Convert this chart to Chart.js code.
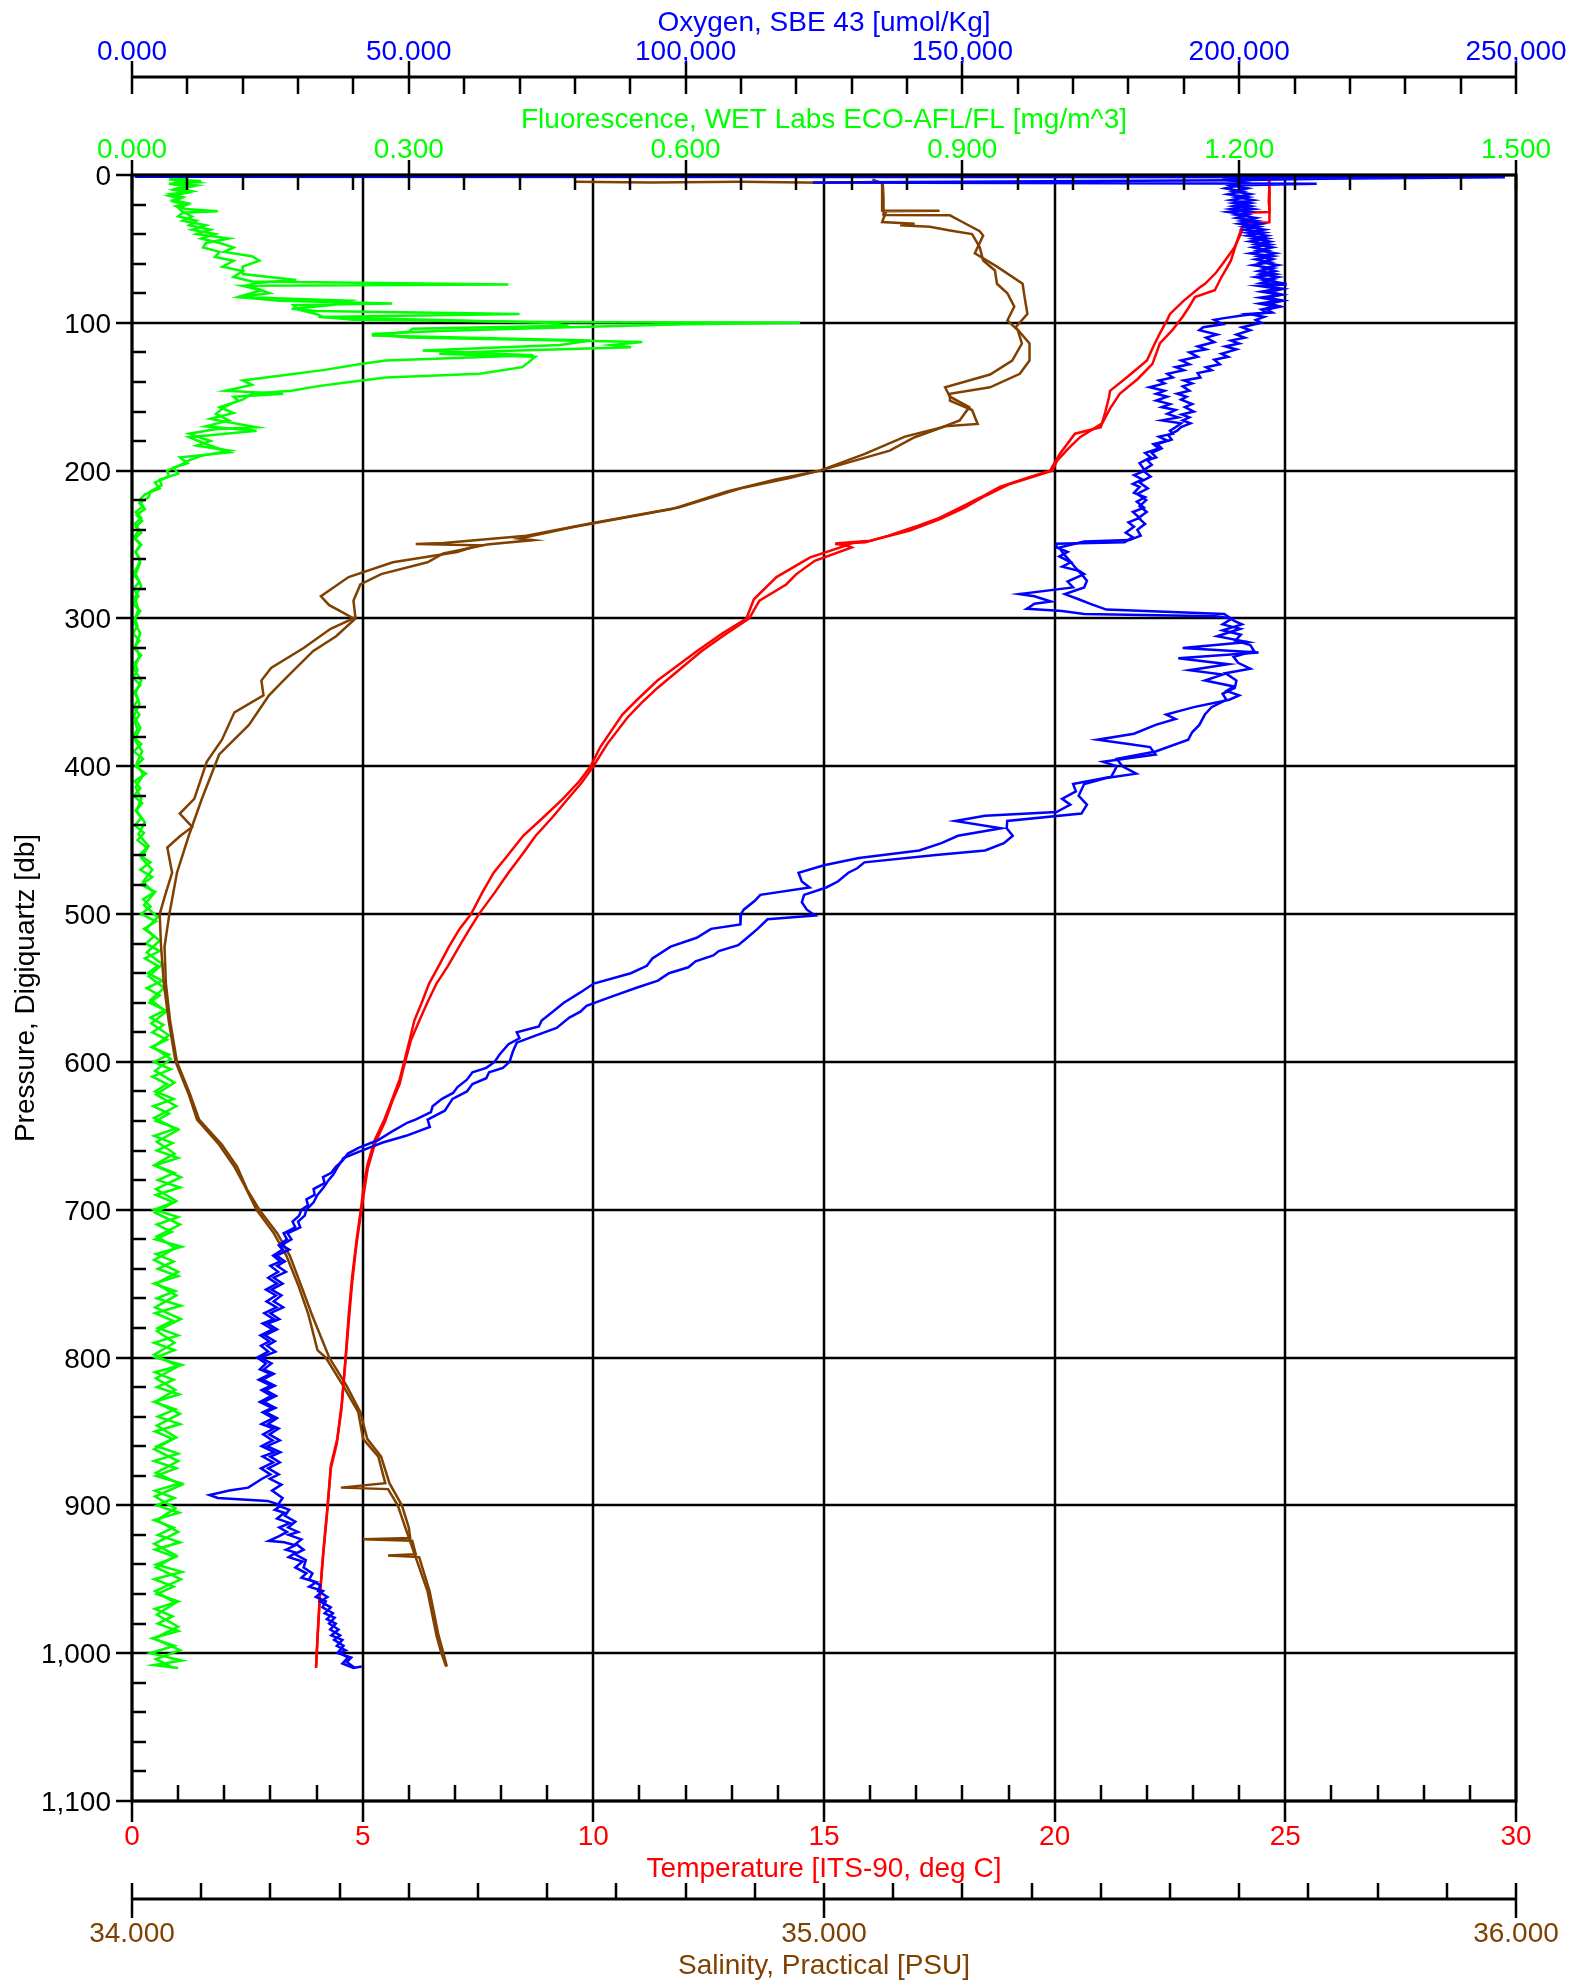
<!DOCTYPE html>
<html>
<head>
<meta charset="utf-8">
<title>CTD profile</title>
<script src="https://cdn.jsdelivr.net/npm/chart.js@4.4.1/dist/chart.umd.min.js"></script>
<style>
  html, body { margin: 0; padding: 0; background: #fff; }
</style>
</head>
<body>
<canvas id="myChart" width="1583" height="1984"></canvas>
<script>
//////////////// DATA (pressure db, value) /////////////////////////////////

var tempCast1 = [[3,24.66],[10,24.65],[18,24.64],[25,24.66],[25.5,24.1],[30,24.1],[37.5,24.07],[48.8,23.9],[58,23.69],[66,23.5],[73.6,23.26],[76,23.15],[85,22.8],[94,22.5],[98,22.44],[106,22.3],[114,22.17],[125.5,22.0],[136,21.6],[146,21.2],[150,21.18],[160,21.1],[170.7,21.0],[175,20.44],[188.7,20.11],[200,19.9],[205,19.4],[211,18.81],[218,18.4],[225,17.95],[232,17.5],[238,16.97],[244,16.4],[248.5,15.9],[249.7,15.24],[250.5,15.5],[258.7,14.7],[272,13.97],[287,13.48],[300,13.32],[310,12.8],[322,12.25],[342,11.39],[355,10.95],[365,10.63],[387,10.15],[400,9.94],[410,9.7],[422,9.34],[435,8.9],[447,8.48],[460,8.15],[472,7.84],[485,7.6],[500,7.35],[510,7.1],[522,6.87],[535,6.65],[547,6.44],[560,6.28],[572,6.12],[585,6.02],[600,5.9],[612,5.8],[626,5.63],[639,5.47],[653,5.26],[670,5.1],[685,5.02],[700,4.96],[720,4.87],[746,4.77],[770,4.7],[800,4.63],[830,4.55],[855,4.45],[873,4.31],[900,4.24],[930,4.15],[958,4.08],[985,4.03],[1009,3.99]];
var tempCast2 = [[3,24.64],[12,24.66],[20,24.65],[32,24.66],[32.5,24.12],[36,24.05],[45,23.95],[58,23.82],[70,23.6],[78,23.47],[82.6,23.04],[90,22.9],[96,22.77],[105,22.55],[114,22.28],[127.8,22.12],[138,21.8],[148,21.41],[158,21.2],[168,21.03],[177.4,20.55],[185,20.3],[193,20.06],[200,19.95],[209,19.03],[217,18.5],[225,18.05],[233,17.5],[240.6,16.86],[247.4,16.0],[249,15.35],[252,15.6],[261,14.8],[270,14.4],[277,14.18],[288,13.6],[300,13.38],[311,12.85],[322,12.35],[335,11.85],[347,11.39],[357,11.05],[367,10.74],[385,10.3],[400,10.0],[411,9.75],[422,9.45],[435,9.1],[447,8.75],[460,8.45],[472,8.16],[486,7.85],[500,7.52],[511,7.3],[522,7.09],[535,6.85],[547,6.6],[560,6.4],[572,6.23],[585,6.05],[600,5.92],[615,5.8],[626,5.65],[640,5.49],[655,5.27],[672,5.11],[690,5.02],[705,4.95],[725,4.86],[750,4.77],[775,4.7],[805,4.62],[835,4.54],[858,4.44],[875,4.31],[905,4.23],[935,4.14],[962,4.07],[990,4.02],[1010,3.99]];

var salCast1 = [[4.5,34.64],[5,34.75],[4.5,34.88],[5.2,35.0],[4.8,35.08],[5,35.084],[15,35.084],[24,35.084],[24.2,35.167],[24.5,35.09],[31.8,35.084],[33,35.131],[34,35.11],[35,35.153],[37.5,35.182],[40,35.214],[48.8,35.225],[57.8,35.23],[64.6,35.247],[73.6,35.25],[80,35.265],[89,35.275],[98.4,35.265],[105,35.28],[114,35.286],[125.5,35.272],[135,35.24],[143.6,35.175],[150,35.182],[157,35.21],[166,35.196],[170.6,35.171],[177,35.117],[188.7,35.059],[200,34.994],[205,34.95],[212,34.88],[225,34.79],[236,34.66],[244,34.57],[249,34.45],[249.7,34.41],[250.5,34.5],[255,34.47],[262,34.377],[272,34.313],[285,34.273],[291,34.285],[296,34.305],[300,34.32],[307,34.287],[320,34.248],[333.5,34.201],[342,34.187],[352,34.19],[363.5,34.148],[382,34.13],[397,34.108],[422,34.09],[432,34.069],[441,34.087],[447,34.07],[455,34.051],[472,34.058],[487,34.048],[500,34.04],[522,34.042],[547,34.046],[572,34.053],[600,34.063],[622,34.082],[639,34.094],[656,34.126],[671,34.148],[683,34.162],[700,34.18],[716,34.205],[731,34.223],[752,34.241],[771,34.255],[795,34.268],[800,34.28],[819,34.305],[837,34.327],[855,34.334],[867,34.356],[885,34.366],[888,34.302],[889,34.37],[900,34.384],[915,34.395],[958,34.427],[988,34.44],[1000,34.447],[1009,34.454]];
var salCast2 = [[3,35.07],[6,35.085],[15,35.086],[27,35.086],[27.3,35.182],[31.8,35.2],[38,35.225],[41,35.23],[53,35.218],[62,35.25],[73.6,35.287],[83,35.29],[94,35.294],[103,35.277],[114,35.297],[125.5,35.297],[134.5,35.283],[143.6,35.24],[148,35.182],[152.6,35.182],[159,35.214],[168.4,35.222],[170,35.175],[177.4,35.131],[186.5,35.095],[200,34.994],[206,34.93],[214,34.86],[226,34.78],[238,34.64],[246,34.56],[247,34.58],[250,34.513],[256,34.45],[262,34.427],[270,34.36],[277,34.33],[288,34.32],[300,34.323],[312,34.295],[322,34.262],[340,34.223],[352,34.198],[372,34.169],[392,34.126],[422,34.101],[447,34.082],[472,34.065],[500,34.054],[522,34.047],[547,34.049],[572,34.055],[600,34.065],[622,34.084],[639,34.097],[656,34.13],[671,34.152],[686,34.166],[700,34.184],[716,34.21],[731,34.228],[752,34.245],[771,34.26],[800,34.285],[819,34.31],[837,34.33],[855,34.34],[867,34.36],[885,34.372],[900,34.39],[915,34.4],[922,34.402],[923,34.334],[924,34.405],[933,34.41],[934,34.37],[935,34.415],[958,34.43],[988,34.443],[1000,34.45],[1009,34.455]];

var oxyCast1 = [[1.2,0.5],[1.5,248],[2.5,215],[3.5,199],[5,123],[6,214],[7,200],[9,197.5],[11,200.5],[13,198],[15,201.5],[17,198.5],[19,202],[21,199],[23,202.5],[25,198],[27,201.5],[29,199.5],[31,203],[33,200],[35,203.5],[37,201],[39,204.5],[41,201.5],[43,205],[45,202],[47,205.5],[49,202.5],[51,205],[53,202],[55,206],[57,203],[59,205.5],[61,202.5],[63,206],[65,203.5],[67,206.5],[69,203],[71,206],[73,204],[74,208.6],[75,203.5],[77,207],[79,204],[81,207.5],[83,203.8],[85,207],[87,203.6],[89,206.5],[91,204],[93,205],[95,200.5],[97,197],[98,195.5],[101,197],[103,193.5],[105,192.8],[108,196],[110,194],[113,195.5],[116,192.5],[118,194],[120,191],[123,192.5],[125.5,189.5],[128,191],[130,188.5],[132,190],[134.5,187],[137,188],[139,185.5],[141,186.5],[143.6,183.8],[146,186.5],[148,185],[150,187],[152.6,185],[155,187.5],[157,186],[159,188.5],[161.6,187],[164,189],[166,186],[168,189.5],[170.6,188.5],[173,187.5],[175,188],[177,185.5],[179.7,187],[182,184.5],[185,185.5],[188,183],[191,184],[195,182],[200,183],[203,181],[206,182.5],[209,180.8],[211,182],[215,181],[218,183],[221,181.5],[225,182.8],[228,180.8],[232,182],[235,180],[238,181],[242,179.5],[245,180.8],[248.5,179.3],[249.5,167],[252,167],[255,169],[258,167.5],[262,169.6],[265,168],[268,171.2],[270,172],[275,169],[279,170],[283.5,160.3],[285,163],[288.5,166],[290,163],[292.6,162],[293.5,161.6],[295,168],[297,172],[298.5,195.8],[300,198.7],[304,197],[307,200.2],[312,196],[316,201.5],[320,189.8],[323,203.5],[327,189],[331,198],[335,191],[338,197],[342,193.8],[346,199],[349,197.7],[352,200],[355,198.2],[360,191.8],[365,186.8],[368,188.5],[372,184.9],[378,181],[382,174.4],[385,180],[387,183.9],[392,184.9],[397,175.4],[400,177.9],[407,176.9],[412,170],[417,170.5],[422,168],[426,169.5],[431,167],[433.5,154.1],[437,148.7],[442,157],[447,149.2],[452,146.2],[457,142.2],[462,131.3],[467,125],[472,120.4],[478,121],[482,122.4],[487,113.5],[491,112.5],[497,110.5],[500,110],[507,109.9],[510,104.6],[516,102],[522,97.3],[530,94],[535,93],[540,90.1],[547,83.4],[553,81],[560,78],[566,76],[572,74],[576,73.5],[580,69.5],[584,70],[588,68],[595,66.4],[600,65.5],[604,64],[607,61.5],[612,60.5],[617,58.8],[621,58],[625,56],[630,54.3],[634,54],[639,51.2],[641,49.8],[647,47],[653,44.4],[658,41],[662,39],[667,38],[671,36.8],[675,36],[678,34.5],[682,34.8],[686,32.8],[690,33],[693,31.5],[697,31.8],[700,30.6],[704,30.2],[708,29],[712,29.5],[716,27.4],[720,28],[724,26.5],[727,27.2],[731,25.5],[735,26.8],[738,25],[742,26.4],[746,24.6],[750,26.2],[754,24.2],[758,26],[762,24.3],[766,26.1],[770,23.9],[774,25.6],[777,23.6],[781,25.4],[785,23.2],[789,24.8],[792,23.3],[796,24.6],[800,22.6],[804,24.2],[808,23.1],[811,25],[815,22.9],[819,25.1],[822,23.4],[826,25.2],[830,23.1],[834,25.3],[837,23.6],[841,25.5],[845,23.4],[848,25.6],[852,23.7],[856,25.4],[860,23.4],[864,25.7],[867,23.6],[871,25.5],[875,23.3],[879,25],[882,23.5],[888,21],[890,17.6],[893,14],[895,15.5],[897,24.5],[900,27],[903,25.8],[905,27.5],[909,26.2],[912,28.5],[915,26.6],[918,28],[921,26.5],[924,24.7],[925,27.5],[927,29.5],[930,27.8],[932,29.6],[935,28.3],[938,30.8],[942,29.5],[946,31.5],[949,30.6],[952,33.3],[955,32],[958,34.5],[962,33.2],[965,35],[969,34.4],[973,36.3],[977,35.2],[980,36.8],[984,35.8],[988,37.6],[991,36.5],[995,38.2],[999,37.3],[1003,39],[1007,38],[1010,40],[1009,41.5]];
var oxyCast2 = [[2,210],[3,197],[5,201],[7,198.5],[9,201.5],[11,199],[13,202],[15,199.5],[17,202.5],[19,199],[21,202],[23,198.5],[25,202],[27,199.5],[29,203],[31,200.5],[33,204],[35,201],[37,204.5],[39,201.5],[41,205],[43,202.5],[45,205.5],[47,203],[49,206],[51,203.5],[53,206.5],[55,203.5],[57,206],[59,204],[61,207],[63,204.5],[65,206.5],[67,204],[69,207],[71,204.5],[73,207.5],[75,205],[77,208],[79,205.5],[81,207.7],[83,205],[85,208],[87,205.5],[89,207.5],[91,205],[93,206],[94,201.8],[96,204.5],[98,203],[100,204],[103,200.5],[105,202],[108,199.5],[110,201],[112,198.5],[114,200],[116,197.5],[118,199.5],[121,196.8],[123,198],[125,195.5],[128,196.5],[130,194],[132,195],[134,192.5],[137,193],[139,190],[141,191.5],[143,189.8],[146,191],[148,188.8],[150,190.5],[152,189.5],[155,191.5],[157,190.2],[160,191.8],[162,189.6],[164,191],[166,189.8],[168,191.2],[170.6,189.5],[173,188.8],[176,187.2],[179,187.8],[182,185.2],[185,186],[188,184.2],[191,185],[193,183.4],[196,184.2],[200,182.6],[204,184],[208,182],[212,183.5],[215.8,181.6],[220,183.2],[224,182],[228,183.3],[232,181.8],[236,183],[240,181.6],[244,182.2],[247,180.2],[248,172],[252,167.5],[256,168.2],[261,169.4],[266,170.5],[270,171.5],[274.5,172.5],[279,172],[283.5,168.5],[287,171],[290,173],[294,176],[297,197.3],[301.6,199.1],[304,200.5],[308,197],[311,200.3],[315,199.3],[318,202],[322,202.7],[326,199],[330,199.8],[334,202],[337,197.5],[342,199.5],[347,199.2],[351,197],[355,197.7],[360,195],[365,193.8],[372,192.8],[377,191.5],[382,190.8],[390,184.9],[395,177.9],[400,178.9],[405,181.4],[408,176],[412,172],[420,171],[426,172.5],[432,171.5],[437,158.1],[442,158],[447,159.1],[452,157.5],[457,154.1],[460,145.2],[465,132.3],[469,131],[472,129.4],[478,127.5],[482,125.4],[487,121.4],[492,121],[497,121.9],[501,123.4],[503.5,114.8],[510,113],[517,110.8],[521,109.5],[525,106],[528,105],[532,101.8],[536,100.5],[540,97],[545,95],[550,91],[556,86.5],[562,82.1],[566,81],[570,79],[577,76.7],[582,73],[587,69.5],[593,68.8],[600,68.2],[604,67],[607,64.5],[611,64],[615,61.5],[620,60.5],[625,57.9],[633,56.5],[639,53.4],[644,53.8],[650,49.5],[654.5,45.3],[660,41.5],[665,38.2],[672,37],[676,36.4],[680,35.5],[685,34.6],[690,33.5],[695,32.8],[700,31.5],[704,31.2],[708,30],[712,30.4],[716,28.1],[720,28.8],[724,27],[727,28.4],[731,26.1],[735,27.6],[738,26.2],[742,27.8],[746,25.6],[750,27.2],[754,25.2],[758,27],[762,25.6],[766,27.3],[770,25],[774,26.6],[777,24.5],[781,26.2],[785,24],[789,25.8],[792,24.4],[796,25.9],[800,23.2],[804,25.2],[808,23.8],[811,25.6],[815,23.6],[819,25.8],[822,24.1],[826,26],[830,23.8],[834,25.9],[837,24.1],[841,26.2],[845,24.6],[848,26.5],[852,24.8],[856,26.7],[860,24.4],[864,26.8],[867,25],[871,26.7],[875,24.6],[879,26.5],[882,24.9],[886,27],[890,25.3],[895,27.2],[900,26.3],[903,28.4],[907,27.6],[911,29.5],[915,28.2],[918,30],[920,28.3],[923,30.6],[926,29.6],[930,31],[933,29.4],[937,31.4],[942,31],[946,32.6],[950,32],[954,34],[958,33.6],[962,35.3],[965,34],[969,35.9],[973,34.8],[976,36.6],[980,35.6],[984,37.3],[988,36],[991,38],[995,37],[998,38.6],[1000,37.2],[1003,39.6],[1006,38.8],[1010,40.3]];

var flCast1 = [[2,0.06],[3,0.04],[4,0.075],[5,0.045],[7,0.07],[9,0.05],[11,0.065],[13,0.042],[15,0.055],[17,0.045],[19,0.06],[21,0.048],[23,0.058],[24.6,0.093],[25.5,0.055],[28,0.05],[31,0.07],[34,0.062],[37,0.085],[40,0.07],[43,0.105],[46,0.08],[49,0.077],[52,0.095],[55.5,0.09],[58,0.11],[62,0.098],[65,0.12],[69,0.11],[72,0.13],[74,0.408],[75,0.12],[78,0.14],[82.6,0.115],[85,0.16],[87,0.282],[88,0.175],[91,0.18],[94,0.2],[96,0.207],[98,0.24],[99.5,0.45],[100,0.724],[101,0.6],[103,0.473],[105.5,0.333],[107.5,0.26],[110,0.3],[113,0.553],[115,0.52],[116.5,0.541],[119,0.4],[121,0.333],[123,0.437],[126.6,0.43],[130,0.423],[134.5,0.377],[137,0.275],[140,0.236],[143,0.2],[146,0.173],[148,0.13],[152,0.12],[157,0.095],[161,0.11],[165,0.085],[170.6,0.135],[172,0.09],[175,0.062],[180,0.085],[183,0.07],[186.5,0.106],[190,0.075],[193,0.062],[197,0.05],[200,0.038],[204,0.04],[208,0.025],[212,0.03],[216,0.014],[220,0.008],[224,0.012],[228,0.004],[232,0.01],[236,0.003],[240,0.008],[245,0.002],[250,0.01],[255,0.004],[260,0.009],
  [265,0.006],[270,0.001],[275,0.008],[280,0.002],[285,0.007],[290,0.001],[295,0.009],[300,0.003],[305,0.006],[310,0.001],[315,0.008],[320,0.002],[325,0.01],[330,0.003],[335,0.006],[340,0.001],[345,0.009],[350,0.002],[355,0.007],[360,0.001],[365,0.008],[370,0.003],[375,0.006],[380,0.001],[385,0.01],[390,0.002],[395,0.012],[400,0.004],[405,0.015],[410,0.003],[415,0.009],[420,0.002],[425,0.011],[430,0.004],[435,0.01],[440,0.003],[445,0.013],[450,0.006],[455,0.016],[460,0.008],[465,0.02],[470,0.009],[475,0.022],[480,0.01],[485,0.025],[490,0.012],[495,0.02],[500,0.01],[505,0.026],[510,0.013],[515,0.024],[520,0.015],[525,0.03],[530,0.014],[535,0.028],[540,0.017],[545,0.033],[550,0.016],[555,0.03],[560,0.019],[565,0.036],[570,0.02],[575,0.034],[580,0.022],[585,0.038],[590,0.021],[595,0.04],[600,0.024],[605,0.042],[610,0.022],[615,0.038],[620,0.025],[625,0.045],[630,0.023],[635,0.04],[640,0.026],[645,0.048],[650,0.024],[655,0.044],[660,0.027],[665,0.05],[670,0.025],[675,0.046],[680,0.028],[685,0.052],[690,0.026],[695,0.045],[700,0.024],[705,0.05],[710,0.027],[715,0.043],[720,0.025],[725,0.054],[730,0.026],[735,0.045],[740,0.028],[745,0.05],[750,0.024],[755,0.047],[760,0.027],[765,0.053],[770,0.025],[775,0.044],[780,0.028],[785,0.05],[790,0.024],[795,0.046],[800,0.026],[805,0.054],[810,0.025],[815,0.045],[820,0.027],[825,0.051],[830,0.024],[835,0.047],[840,0.028],[845,0.052],[850,0.025],[855,0.044],[860,0.027],[865,0.05],[870,0.024],[875,0.048],[880,0.026],[885,0.053],[890,0.025],[895,0.046],[900,0.027],[905,0.051],[910,0.024],[915,0.045],[920,0.028],[925,0.052],[930,0.025],[935,0.047],[940,0.026],[945,0.054],[950,0.024],[955,0.045],[960,0.027],[965,0.05],[970,0.025],[975,0.044],[980,0.028],[985,0.05],[990,0.022],[995,0.046],[1000,0.02],[1005,0.054],[1008,0.024],[1010,0.05]];
var flCast2 = [[3,0.05],[5,0.07],[6,0.04],[8,0.062],[10,0.045],[12,0.06],[14,0.04],[16,0.052],[18,0.045],[20,0.06],[22,0.05],[25,0.055],[28,0.065],[31,0.055],[34,0.08],[37,0.065],[40,0.09],[43,0.075],[46,0.095],[49,0.11],[52,0.1],[55,0.13],[58,0.138],[62,0.12],[67,0.12],[71,0.178],[73,0.135],[74.7,0.125],[78,0.14],[80,0.149],[82.6,0.115],[85,0.236],[88,0.217],[90.5,0.173],[92,0.2],[94,0.42],[96,0.202],[100,0.449],[102,0.473],[104,0.304],[106,0.3],[108.6,0.26],[112,0.497],[115,0.464],[118.7,0.315],[122,0.435],[125.5,0.275],[128,0.246],[132,0.207],[135,0.17],[139,0.12],[142,0.13],[146,0.101],[148,0.164],[150,0.11],[152.6,0.115],[157,0.1],[161.6,0.091],[166,0.105],[170,0.08],[173,0.135],[177.4,0.062],[182,0.08],[187.6,0.106],[191,0.052],[195,0.06],[198,0.045],[202,0.05],[206,0.03],[210,0.032],[214,0.02],[218,0.018],[222,0.008],[226,0.014],[230,0.005],[234,0.011],[238,0.004],[242,0.01],[246,0.003],[250,0.009],[255,0.004],
  [262,0.009],[270,0.004],[278,0.01],[286,0.003],[294,0.007],[302,0.002],[310,0.009],[318,0.004],[326,0.008],[334,0.002],[342,0.01],[350,0.004],[358,0.008],[366,0.002],[374,0.009],[382,0.003],[390,0.011],[398,0.005],[406,0.012],[414,0.004],[422,0.01],[430,0.005],[438,0.014],[446,0.007],[454,0.018],[462,0.01],[470,0.022],[478,0.012],[486,0.024],[494,0.013],[502,0.028],[510,0.015],[518,0.03],[526,0.016],[534,0.033],[542,0.018],[550,0.035],[558,0.02],[566,0.037],[574,0.021],[582,0.04],[590,0.023],[598,0.042],[606,0.025],[614,0.046],[622,0.026],[630,0.048],[638,0.024],[646,0.05],[654,0.027],[662,0.046],[670,0.024],[678,0.053],[686,0.026],[694,0.048],[702,0.025],[710,0.052],[718,0.027],[726,0.047],[734,0.024],[742,0.05],[750,0.026],[758,0.048],[766,0.025],[774,0.053],[782,0.027],[790,0.046],[798,0.024],[806,0.05],[814,0.026],[822,0.047],[830,0.025],[838,0.052],[846,0.027],[854,0.048],[862,0.024],[870,0.05],[878,0.026],[886,0.054],[894,0.025],[902,0.047],[910,0.027],[918,0.05],[926,0.024],[934,0.048],[942,0.026],[950,0.053],[958,0.025],[966,0.047],[974,0.027],[982,0.05],[990,0.024],[998,0.052],[1004,0.026],[1010,0.045]];

//////////////// AXES /////////////////////////////////
var pressTicks  = [0,100,200,300,400,500,600,700,800,900,1000,1100];
var pressLabels = ['0','100','200','300','400','500','600','700','800','900','1,000','1,100'];
var tempTicks   = [0,5,10,15,20,25,30];
var tempLabels  = ['0','5','10','15','20','25','30'];
var salTicks    = [34,35,36];
var salLabels   = ['34.000','35.000','36.000'];
var oxyTicks    = [0,50,100,150,200,250];
var oxyLabels   = ['0.000','50.000','100,000','150,000','200,000','250,000'];
var flTicks     = [0,0.3,0.6,0.9,1.2,1.5];
var flLabels    = ['0.000','0.300','0.600','0.900','1.200','1.500'];

var RED = '#ff0000', BLUE = '#0000ff', GREEN = '#00ff00', BROWN = '#804000';
var FONT = '28px "Liberation Sans", Arial, sans-serif';

function toXY(arr) {
  return arr.map(function(d) { return {x: d[1], y: d[0]}; });
}

function seg(ctx, x1, y1, x2, y2) {
  ctx.beginPath(); ctx.moveTo(x1, y1); ctx.lineTo(x2, y2); ctx.stroke();
}

// tick positions from min to max
function minorSteps(min, max, step) {
  var out = [];
  var n = Math.round((max - min) / step);
  for (var i = 0; i <= n; i++) out.push(min + i * step);
  return out;
}

var gridPlugin = {
  id: 'ctdGrid',
  beforeDatasetsDraw: function(chart) {
    var ctx = chart.ctx, a = chart.chartArea;
    ctx.save();
    ctx.strokeStyle = '#000';
    ctx.lineWidth = 2.5;
    pressTicks.forEach(function(p) {
      var y = Math.round(chart.scales.y.getPixelForValue(p));
      seg(ctx, a.left, y, a.right, y);
    });
    tempTicks.forEach(function(t) {
      var x = Math.round(chart.scales.xT.getPixelForValue(t));
      seg(ctx, x, a.top, x, a.bottom);
    });
    ctx.restore();
  },
  afterDatasetsDraw: function(chart) {
    var ctx = chart.ctx, a = chart.chartArea;
    var sy = chart.scales.y, sT = chart.scales.xT, sS = chart.scales.xS,
        sO = chart.scales.xO, sF = chart.scales.xF;
    ctx.save();
    ctx.strokeStyle = '#000';
    ctx.lineWidth = 3;
    // frame
    ctx.strokeRect(a.left, a.top, a.right - a.left, a.bottom - a.top);
    // oxygen axis line
    var yO = 77;
    seg(ctx, a.left, yO, a.right, yO);
    // salinity axis line
    var yS = 1899;
    seg(ctx, a.left, yS, a.right, yS);

    ctx.lineWidth = 2.5;
    // pressure ticks
    minorSteps(0, 1100, 20).forEach(function(p) {
      var y = Math.round(sy.getPixelForValue(p));
      if (p % 100 === 0) seg(ctx, a.left - 16, y, a.left, y);
      else seg(ctx, a.left, y, a.left + 14, y);
    });
    // temperature ticks
    minorSteps(0, 30, 1).forEach(function(t) {
      var x = Math.round(sT.getPixelForValue(t));
      if (t % 5 === 0) seg(ctx, x, a.bottom, x, a.bottom + 21);
      else seg(ctx, x, a.bottom - 16, x, a.bottom);
    });
    // salinity ticks
    minorSteps(34, 36, 0.1).forEach(function(s, i) {
      var x = Math.round(sS.getPixelForValue(s));
      if (i % 10 === 0) seg(ctx, x, yS - 16, x, yS + 19);
      else seg(ctx, x, yS - 16, x, yS);
    });
    // oxygen ticks
    minorSteps(0, 250, 10).forEach(function(o, i) {
      var x = Math.round(sO.getPixelForValue(o));
      if (i % 5 === 0) seg(ctx, x, yO - 16, x, yO + 17);
      else seg(ctx, x, yO, x, yO + 17);
    });
    // fluorescence ticks
    minorSteps(0, 1.5, 0.06).forEach(function(f, i) {
      var x = Math.round(sF.getPixelForValue(f));
      if (i % 5 === 0) seg(ctx, x, a.top - 15, x, a.top + 15);
      else seg(ctx, x, a.top, x, a.top + 15);
    });

    // labels
    ctx.font = FONT;
    ctx.textBaseline = 'alphabetic';
    ctx.textAlign = 'right';
    ctx.fillStyle = '#000';
    pressTicks.forEach(function(p, i) {
      ctx.fillText(pressLabels[i], 111, Math.round(sy.getPixelForValue(p)) + 10);
    });
    ctx.textAlign = 'center';
    ctx.fillStyle = RED;
    tempTicks.forEach(function(t, i) {
      ctx.fillText(tempLabels[i], sT.getPixelForValue(t), 1845);
    });
    ctx.fillText('Temperature [ITS-90, deg C]', (a.left + a.right) / 2, 1877);
    ctx.fillStyle = BROWN;
    salTicks.forEach(function(s, i) {
      ctx.fillText(salLabels[i], sS.getPixelForValue(s), 1942);
    });
    ctx.fillText('Salinity, Practical [PSU]', (a.left + a.right) / 2, 1974);
    ctx.fillStyle = BLUE;
    oxyTicks.forEach(function(o, i) {
      ctx.fillText(oxyLabels[i], sO.getPixelForValue(o), 60);
    });
    ctx.fillText('Oxygen, SBE 43 [umol/Kg]', (a.left + a.right) / 2, 31);
    ctx.fillStyle = GREEN;
    flTicks.forEach(function(f, i) {
      ctx.fillText(flLabels[i], sF.getPixelForValue(f), 158);
    });
    ctx.fillText('Fluorescence, WET Labs ECO-AFL/FL [mg/m^3]', (a.left + a.right) / 2, 128);

    // y title
    ctx.fillStyle = '#000';
    ctx.translate(34, (a.top + a.bottom) / 2);
    ctx.rotate(-Math.PI / 2);
    ctx.fillText('Pressure, Digiquartz [db]', 0, 0);
    ctx.restore();
  }
};

function ds(label, arr, color, axis) {
  return {
    label: label,
    data: toXY(arr),
    xAxisID: axis,
    yAxisID: 'y',
    showLine: true,
    borderColor: color,
    backgroundColor: color,
    borderWidth: 2.5,
    pointRadius: 0,
    tension: 0
  };
}

var ctx = document.getElementById('myChart').getContext('2d');
var chart = new Chart(ctx, {
  type: 'scatter',
  data: {
    datasets: [
      ds('Oxygen', oxyCast1, BLUE, 'xO'),
      ds('Oxygen up', oxyCast2, BLUE, 'xO'),
      ds('Temperature', tempCast1, RED, 'xT'),
      ds('Temperature up', tempCast2, RED, 'xT'),
      ds('Salinity', salCast1, BROWN, 'xS'),
      ds('Salinity up', salCast2, BROWN, 'xS'),
      ds('Fluorescence', flCast1, GREEN, 'xF'),
      ds('Fluorescence up', flCast2, GREEN, 'xF')
    ]
  },
  options: {
    responsive: false,
    animation: false,
    layout: { padding: { left: 132, top: 175, right: 67, bottom: 183 } },
    plugins: { legend: { display: false }, tooltip: { enabled: false } },
    scales: {
      y:  { type: 'linear', display: false, reverse: true, min: 0, max: 1100 },
      xT: { type: 'linear', display: false, position: 'bottom', min: 0, max: 30 },
      xS: { type: 'linear', display: false, position: 'bottom', min: 34, max: 36 },
      xO: { type: 'linear', display: false, position: 'top', min: 0, max: 250 },
      xF: { type: 'linear', display: false, position: 'top', min: 0, max: 1.5 }
    }
  },
  plugins: [gridPlugin]
});
</script>
</body>
</html>
